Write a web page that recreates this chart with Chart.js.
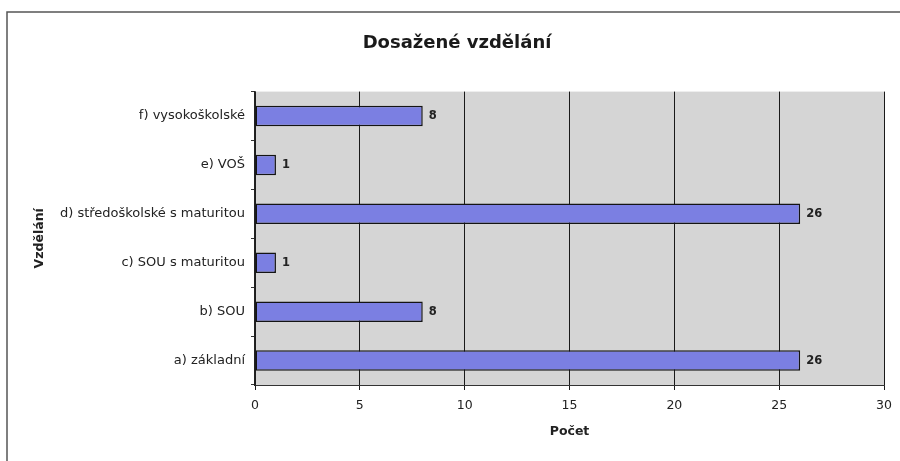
<!DOCTYPE html>
<html>
<head>
<meta charset="utf-8">
<script src="https://cdn.jsdelivr.net/npm/chart.js@4"></script>
<style>
  html, body { margin: 0; padding: 0; background: #fff; }
  #box { width: 900px; height: 461px; }
</style>
</head>
<body>
<div id="box"><canvas id="graf"></canvas></div>
<script>
// ==== donnees du graphique ====
const kategorie = [
  'f) vysokoškolské',
  'e) VOŠ',
  'd) středoškolské s maturitou',
  'c) SOU s maturitou',
  'b) SOU',
  'a) základní'
];
const pocty = [8, 1, 26, 1, 8, 26];
const osaX = { min: 0, max: 30, krok: 5 };

const pismo = "'DejaVu Sans', Verdana, sans-serif";

// fond gris de la zone de tracé + cadre
const pozadi = {
  id: 'pozadi',
  beforeDraw(chart) {
    const { ctx, chartArea: { left, top, right, bottom } } = chart;
    ctx.save();
    ctx.strokeStyle = '#555';
    ctx.lineWidth = 1.5;
    ctx.beginPath();
    ctx.moveTo(7, 461);
    ctx.lineTo(7, 12);
    ctx.lineTo(900, 12);
    ctx.stroke();
    ctx.fillStyle = '#d5d5d5';
    ctx.fillRect(left, top, right - left, bottom - top);
    ctx.restore();
  }
};

// valeurs à droite des barres
const hodnoty = {
  id: 'hodnoty',
  afterDatasetsDraw(chart) {
    const { ctx } = chart;
    const meta = chart.getDatasetMeta(0);
    ctx.save();
    ctx.font = 'bold 11.5px ' + pismo;
    ctx.fillStyle = '#222';
    ctx.textBaseline = 'middle';
    meta.data.forEach((bar, i) => {
      ctx.fillText(pocty[i], bar.x + 6, bar.y);
    });
    ctx.restore();
  }
};

const graf = new Chart(document.getElementById('graf'), {
  type: 'bar',
  data: {
    labels: kategorie,
    datasets: [{
      data: pocty,
      backgroundColor: '#7b7fe2',
      borderColor: '#141414',
      borderWidth: 1.5,
      borderSkipped: false,
      categoryPercentage: 1,
      barPercentage: 0.42
    }]
  },
  options: {
    indexAxis: 'y',
    responsive: true,
    maintainAspectRatio: false,
    animation: false,
    layout: { padding: { left: 28, right: 14, top: 0, bottom: 18 } },
    scales: {
      x: {
        min: osaX.min,
        max: osaX.max,
        ticks: { stepSize: osaX.krok, color: '#222', font: { family: pismo, size: 12.5 }, padding: 8 },
        grid: { color: '#1a1a1a', lineWidth: 1, tickLength: 5 },
        border: { color: '#333', width: 1 },
        title: { display: true, text: 'Počet', color: '#222', font: { family: pismo, size: 12.5, weight: 'bold' }, padding: { top: 9 } },
        afterFit(scale) { scale.height = 58; }
      },
      y: {
        ticks: { color: '#222', font: { family: pismo, size: 13 }, padding: 6 },
        grid: { display: true, drawOnChartArea: false, offset: true, tickLength: 4, color: '#333' },
        border: { color: '#222', width: 1.5 },
        title: { display: true, text: 'Vzdělání', color: '#222', font: { family: pismo, size: 12.5, weight: 'bold' } },
        afterFit(scale) { scale.width = 227; }
      }
    },
    plugins: {
      legend: { display: false },
      tooltip: { enabled: false },
      title: {
        display: true,
        text: 'Dosažené vzdělání',
        color: '#1a1a1a',
        font: { family: pismo, size: 18, weight: 'bold' },
        padding: { top: 33, bottom: 37 }
      }
    }
  },
  plugins: [pozadi, hodnoty]
});
</script>
</body>
</html>
